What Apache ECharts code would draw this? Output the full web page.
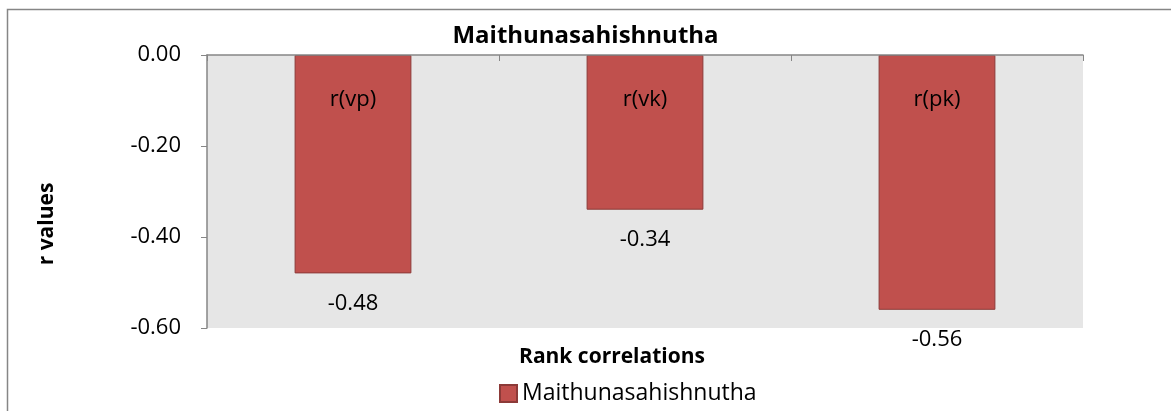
<!DOCTYPE html>
<html>
<head>
<meta charset="utf-8">
<script src="https://cdn.jsdelivr.net/npm/echarts@6/dist/echarts.min.js"></script>
<style>
  html, body { margin: 0; padding: 0; background: #fff; }
  #chart { width: 1171px; height: 411px; }
</style>
</head>
<body>
<div id="chart"></div>
<script>
// chart data
var categories = ['r(vp)', 'r(vk)', 'r(pk)']
var rValues = [-0.48, -0.34, -0.56]
var seriesName = 'Maithunasahishnutha'

var font = 'Open Sans, Noto Sans, sans-serif'
var myChart = echarts.init(document.getElementById('chart'))
var option = {
  backgroundColor: '#fff',
  animation: false,
  title: {
    text: 'Maithunasahishnutha',
    left: 'center',
    top: 19,
    textStyle: { fontFamily: font, fontSize: 24, fontWeight: 'bold', color: '#000' }
  },
  legend: {
    bottom: 1,
    left: 494,
    icon: 'rect',
    itemWidth: 17,
    itemHeight: 17,
    itemGap: 6,
    data: [seriesName],
    textStyle: { fontFamily: font, fontSize: 23, color: '#000' }
  },
  graphic: [
    {
      type: 'rect',
      shape: { x: 7.5, y: 9.5, width: 1300, height: 600 },
      style: { fill: 'none', stroke: '#868686', lineWidth: 1.5 },
      silent: true
    },
    {
      type: 'text',
      x: 47,
      y: 224,
      rotation: Math.PI / 2,
      style: {
        text: 'r values',
        fontFamily: font,
        fontSize: 21,
        fontWeight: 'bold',
        fill: '#000',
        align: 'center',
        verticalAlign: 'middle'
      }
    },
    {
      type: 'text',
      x: 612,
      y: 357,
      style: {
        text: 'Rank correlations',
        fontFamily: font,
        fontSize: 21,
        fontWeight: 'bold',
        fill: '#000',
        align: 'center',
        verticalAlign: 'middle'
      }
    }
  ],
  grid: {
    left: 207,
    right: 88,
    top: 55,
    bottom: 83,
    show: true,
    backgroundColor: '#E6E6E6',
    borderWidth: 0
  },
  xAxis: {
    type: 'category',
    position: 'top',
    data: categories,
    axisLine: { onZero: false, lineStyle: { color: '#868686', width: 1.5 } },
    axisTick: { show: true, inside: true, length: 6, lineStyle: { color: '#868686' } },
    axisLabel: {
      inside: true,
      margin: 34,
      fontFamily: font,
      fontSize: 22,
      color: '#000'
    },
    z: 10
  },
  yAxis: {
    type: 'value',
    min: -0.6,
    max: 0,
    interval: 0.2,
    axisLine: { show: true, lineStyle: { color: '#868686', width: 1.5 } },
    axisTick: { show: true, length: 6, lineStyle: { color: '#868686' } },
    splitLine: { show: false },
    axisLabel: {
      margin: 26,
      fontFamily: font,
      fontSize: 22,
      color: '#000',
      formatter: function (v) { return v.toFixed(2) }
    }
  },
  series: [
    {
      name: seriesName,
      type: 'bar',
      data: rValues,
      barWidth: '40%',
      itemStyle: { color: '#C0504D', borderColor: '#8C3A38', borderWidth: 1 },
      label: {
        show: true,
        position: 'bottom',
        distance: 19,
        fontFamily: font,
        fontSize: 22,
        color: '#000',
        formatter: function (p) { return p.value.toFixed(2) }
      }
    }
  ]
}
myChart.setOption(option)
</script>
</body>
</html>
